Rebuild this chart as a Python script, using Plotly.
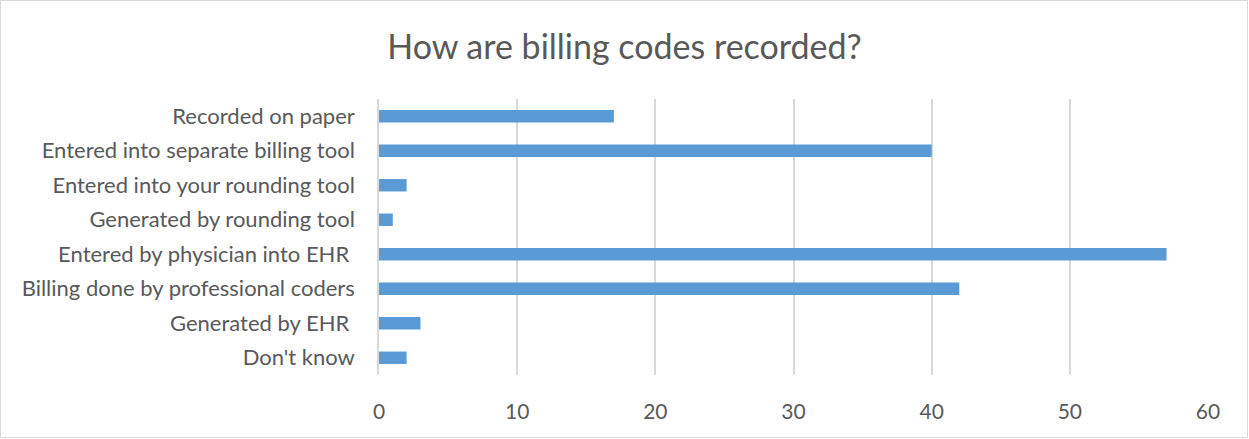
import plotly.graph_objects as go

# Survey responses: how billing codes are recorded
categories = [
    "Recorded on paper",
    "Entered into separate billing tool",
    "Entered into your rounding tool",
    "Generated by rounding tool",
    "Entered by physician into EHR ",
    "Billing done by professional coders",
    "Generated by EHR ",
    "Don't know",
]
counts = [17, 40, 2, 1, 57, 42, 3, 2]
x_ticks = [0, 10, 20, 30, 40, 50, 60]

W, H = 1249, 439
ML, MR, MT, MB = 379, 41, 99, 64
pw, ph = W - ML - MR, H - MT - MB

text_color = "#595959"
grid_color = "#d9d9d9"
font_family = "Lato, 'Open Sans', sans-serif"

fig = go.Figure(
    go.Bar(
        x=counts,
        y=categories,
        orientation="h",
        marker=dict(color="#5b9bd5", line=dict(width=0)),
        width=0.36,
        hoverinfo="x+y",
    )
)

fig.update_layout(
    width=W,
    height=H,
    margin=dict(l=ML, r=MR, t=MT, b=MB, pad=0),
    paper_bgcolor="white",
    plot_bgcolor="white",
    showlegend=False,
    title=dict(
        text="How are billing codes recorded?",
        x=0.5,
        xanchor="center",
        y=1 - 47 / H,
        yanchor="middle",
        font=dict(family=font_family, size=34, color=text_color),
    ),
    font=dict(family=font_family, size=22, color=text_color),
    xaxis=dict(
        range=[0, 60],
        tickvals=x_ticks,
        showgrid=True,
        gridcolor=grid_color,
        gridwidth=1.5,
        zeroline=False,
        showline=False,
        ticks="",
        ticklabelstandoff=22,
        tickfont=dict(size=21, color=text_color),
        fixedrange=True,
    ),
    yaxis=dict(
        autorange="reversed",
        showgrid=False,
        zeroline=False,
        showline=True,
        linecolor=grid_color,
        linewidth=1.5,
        ticks="",
        ticklabelstandoff=18,
        tickfont=dict(size=22, color=text_color),
        fixedrange=True,
    ),
    shapes=[
        dict(
            type="rect",
            xref="paper",
            yref="paper",
            x0=(0.5 - ML) / pw,
            x1=(W - 1.5 - ML) / pw,
            y0=-(MB - 1.5) / ph,
            y1=1 + (MT - 0.5) / ph,
            line=dict(color=grid_color, width=1),
            fillcolor="rgba(0,0,0,0)",
            layer="below",
        )
    ],
)

fig.write_html("out.html")
